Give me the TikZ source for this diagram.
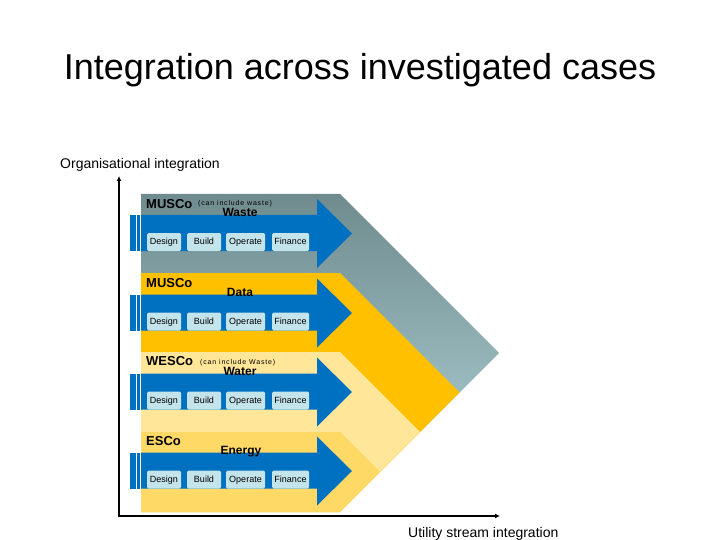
\documentclass[tikz,border=0pt]{standalone}
\usepackage{fontspec}
\setmainfont{Liberation Sans}
\usetikzlibrary{arrows.meta}

\definecolor{flowblue}{HTML}{0070C0}
\definecolor{tabblue}{HTML}{C3E4EB}
\definecolor{greytop}{HTML}{6F8B8E}
\definecolor{greymid}{HTML}{9DC0C5}
\definecolor{greybot}{HTML}{B4D8DD}
\definecolor{gold}{HTML}{FFC000}
\definecolor{paleyellow}{HTML}{FFE699}
\definecolor{lightgold}{HTML}{FFD966}

\begin{document}
\begin{tikzpicture}[
	x=1pt, y=-1pt,
	tab/.style={
		rectangle,
		rounded corners=1.5pt,
		fill=tabblue,
		inner sep=0pt,
		text height=6.5pt,
		text depth=1.5pt,
		minimum height=18pt,
		font=\fontsize{9}{9}\selectfont,
	},
	bandname/.style={% name of the company type
		anchor=base west,
		inner sep=0pt,
		font=\fontsize{13}{13}\selectfont\bfseries,
	},
	bandnote/.style={
		anchor=base west,
		inner sep=0pt,
		font=\fontsize{7}{7}\selectfont\addfontfeatures{LetterSpace=12},
	},
	stream/.style={% utility stream above the arrow
		anchor=base,
		inner sep=0pt,
		font=\fontsize{12}{12}\selectfont\bfseries,
	},
	label/.style={
		inner sep=0pt,
		font=\fontsize{14}{14}\selectfont,
	},
	axis/.style={
		line width=2pt,
		line cap=rect,
		-{Latex[length=5pt,width=5pt]},
	},
]

\useasboundingbox (0,0) rectangle (720,540);

\node[label, anchor=base, font=\fontsize{36}{36}\selectfont] (title) at (360,80) {Integration across investigated cases};
\node[label, anchor=base west] (ylabel) at (60,169) {Organisational integration};
\node[label, anchor=base west] (xlabel) at (408,537) {Utility stream integration};

% bands, back to front
\shade[top color=greytop, middle color=greymid, bottom color=greybot]
	(141,194) -- (340,194) -- (499,353) -- (340,512) -- (141,512) -- cycle;
\fill[gold] (141,273) -- (340,273) -- (459.5,392.5) -- (340,512) -- (141,512) -- cycle;
\fill[paleyellow] (141,352) -- (340,352) -- (420,432) -- (340,512) -- (141,512) -- cycle;
\fill[lightgold] (141,432) -- (340,432) -- (380,472) -- (340,512) -- (141,512) -- cycle;

% blue arrows with tabs
\foreach \i/\c in {1/233.5, 2/313, 3/392, 4/471} {
	\fill[flowblue] (141,\c-18.5) -- (317,\c-18.5) -- (317,\c-34.5) -- (352,\c)
		-- (317,\c+34.5) -- (317,\c+17.5) -- (141,\c+17.5) -- cycle;
	\fill[flowblue] (130,\c-18.5) rectangle (132.5,\c+17.5);
	\fill[flowblue] (133.3,\c-18.5) rectangle (136.3,\c+17.5);
	\fill[flowblue] (137.1,\c-18.5) rectangle (140,\c+17.5);
	\node[tab, minimum width=34pt] (design\i) at (164,\c+8.5) {Design};
	\node[tab, minimum width=34pt] (build\i) at (204,\c+8.5) {Build};
	\node[tab, minimum width=39pt] (operate\i) at (245.5,\c+8.5) {Operate};
	\node[tab, minimum width=37pt] (finance\i) at (290.5,\c+8.5) {Finance};
}

\node[bandname] (musco1) at (146,208) {MUSCo};
\node[bandnote] (note1) at (198,206) {(can include waste)};
\node[stream] (waste) at (240,216) {Waste};

\node[bandname] (musco2) at (146,287) {MUSCo};
\node[stream] (data) at (240,296) {Data};

\node[bandname] (wesco) at (146,365) {WESCo};
\node[bandnote] (note3) at (200,364) {(can include Waste)};
\node[stream] (water) at (240,375) {Water};

\node[bandname] (esco) at (146,445) {ESCo};
\node[stream] (energy) at (241,454) {Energy};

% axes
\coordinate (origin) at (119,516);
\coordinate (ytop) at (119,176);
\coordinate (xend) at (500,516);
\draw[axis] (origin) -- (ytop);
\draw[axis] (origin) -- (xend);

\end{tikzpicture}
\end{document}
